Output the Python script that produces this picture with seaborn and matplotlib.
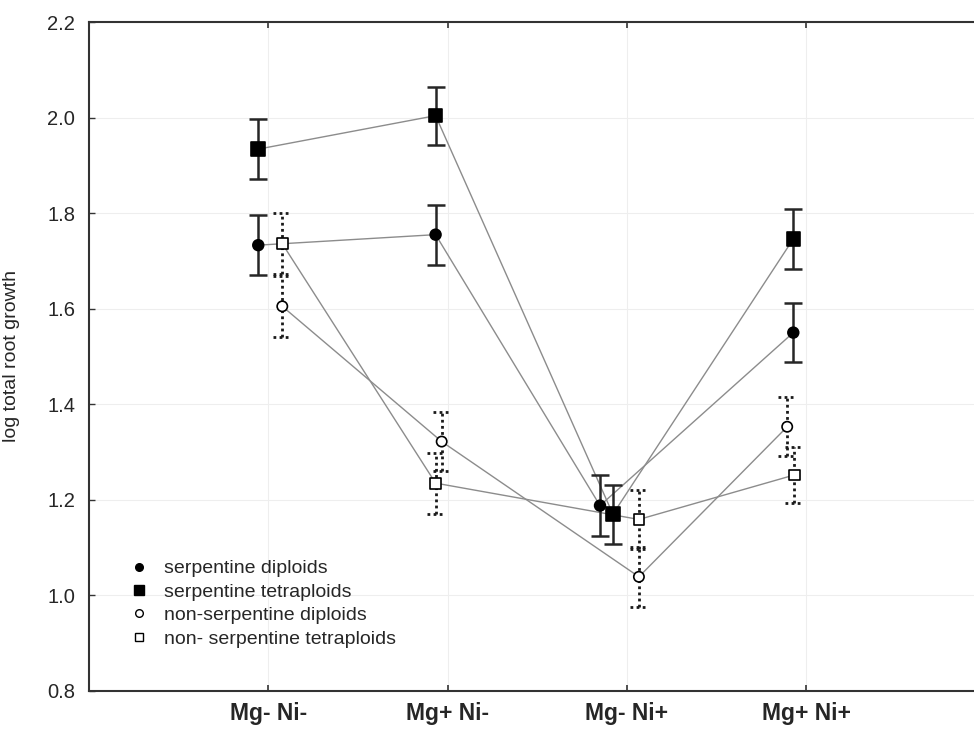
import numpy as np
import pandas as pd
import matplotlib
matplotlib.use("Agg")
import matplotlib.pyplot as plt
from matplotlib.lines import Line2D
import seaborn as sns

# Treatments on the x axis
categories = ["Mg- Ni-", "Mg+ Ni-", "Mg- Ni+", "Mg+ Ni+"]
series_names = ["serpentine diploids", "serpentine tetraploids",
                "non-serpentine diploids", "non- serpentine tetraploids"]

# Means of log total root growth
serp_dip = [1.733, 1.755, 1.188, 1.550]
serp_tet = [1.934, 2.004, 1.170, 1.746]
nonserp_dip = [1.605, 1.322, 1.039, 1.353]
nonserp_tet = [1.736, 1.235, 1.159, 1.252]

# Half-widths of the error bars
serp_dip_err = [0.063, 0.063, 0.063, 0.062]
serp_tet_err = [0.063, 0.061, 0.062, 0.063]
nonserp_dip_err = [0.064, 0.062, 0.063, 0.062]
nonserp_tet_err = [0.064, 0.064, 0.062, 0.058]

# Horizontal dodge of each group within a treatment (category units)
dodge = {
    series_names[0]: [-0.056, -0.067, -0.150, -0.072],
    series_names[1]: [-0.056, -0.067, -0.078, -0.072],
    series_names[2]: [0.078, -0.033, 0.067, -0.106],
    series_names[3]: [0.078, -0.067, 0.067, -0.067],
}

means = [serp_dip, serp_tet, nonserp_dip, nonserp_tet]
errs = [serp_dip_err, serp_tet_err, nonserp_dip_err, nonserp_tet_err]

rows = []
for name, m, e in zip(series_names, means, errs):
    for i, cat in enumerate(categories):
        rows.append({"series": name, "treatment": cat, "pos": i + 1 + dodge[name][i],
                     "value": m[i], "err": e[i]})
df = pd.DataFrame(rows)

sns.set_theme(style="white")
plt.rcParams["font.family"] = ["Liberation Sans", "DejaVu Sans"]

fig = plt.figure(figsize=(9.74, 7.3), dpi=100)
ax = fig.add_axes([89 / 974, 39 / 730, 885 / 974, 669 / 730])

# Connecting lines
sns.lineplot(data=df, x="pos", y="value", units="series", estimator=None, sort=False,
             color="#8c8c8c", lw=1.0, ax=ax, legend=False, zorder=2)

# Error bars: solid for serpentine, dotted for non-serpentine
cap = 0.05
for name in series_names:
    d = df[df["series"] == name]
    lo = d["value"] - d["err"]
    hi = d["value"] + d["err"]
    if name.startswith("serpentine"):
        kw = dict(color="#262626", lw=1.8, linestyles="solid")
    else:
        kw = dict(color="#1a1a1a", lw=2.0, linestyles=(0, (1.0, 1.2)))
    ax.vlines(d["pos"], lo, hi, zorder=3, **kw)
    ax.hlines(lo, d["pos"] - cap, d["pos"] + cap, zorder=3, **kw)
    ax.hlines(hi, d["pos"] - cap, d["pos"] + cap, zorder=3, **kw)

# Markers
marker_map = {series_names[0]: "o", series_names[1]: "s",
              series_names[2]: "o", series_names[3]: "s"}
face_map = {series_names[0]: "black", series_names[1]: "black",
            series_names[2]: "white", series_names[3]: "white"}
size_map = {series_names[0]: 60, series_names[1]: 95,
            series_names[2]: 55, series_names[3]: 60}
sns.scatterplot(data=df, x="pos", y="value", hue="series", palette=face_map,
                style="series", markers=marker_map, size="series", sizes=size_map,
                edgecolor="black", linewidth=1.2, ax=ax, legend=False, zorder=4)

# Axes styling
ax.set_xlim(0, 885 / 179.3)
ax.set_ylim(0.8, 2.2)
ax.set_xticks(range(1, len(categories) + 1))
ax.set_xticklabels(categories, fontsize=16.5, fontweight="bold")
ax.set_yticks(np.arange(0.8, 2.21, 0.2))
ax.set_yticklabels([f"{v:.1f}" for v in np.arange(0.8, 2.21, 0.2)], fontsize=14.5)
ax.set_xlabel("")
ax.set_ylabel("log total root growth", fontsize=14)
ax.yaxis.set_label_coords(-69 / 885, 0.5)
ax.grid(True, color="#eeeeee", lw=0.8)
ax.set_axisbelow(True)
for side in ["left", "top", "bottom"]:
    ax.spines[side].set_visible(True)
    ax.spines[side].set_color("#333333")
    ax.spines[side].set_linewidth(1.5)
ax.spines["right"].set_visible(False)
ax.tick_params(axis="x", direction="in", length=4, width=1.2, color="#333333",
               top=True, bottom=True, pad=8)
ax.tick_params(axis="y", direction="in", length=4, width=1.0, color="#333333",
               left=True, right=False, pad=10)

# Legend
handles = [
    Line2D([], [], ls="none", marker="o", ms=5.5, mfc="black", mec="black"),
    Line2D([], [], ls="none", marker="s", ms=6.5, mfc="black", mec="black"),
    Line2D([], [], ls="none", marker="o", ms=5.5, mfc="white", mec="black", mew=1.0),
    Line2D([], [], ls="none", marker="s", ms=6, mfc="white", mec="black", mew=1.0),
]
fig.legend(handles, series_names, loc="upper left",
           bbox_to_anchor=(120 / 974, 1 - 550 / 730), frameon=False,
           fontsize=14, handlelength=1.0, handletextpad=0.75, labelspacing=0.3,
           borderpad=0)

fig.savefig("out.png", dpi=100)
